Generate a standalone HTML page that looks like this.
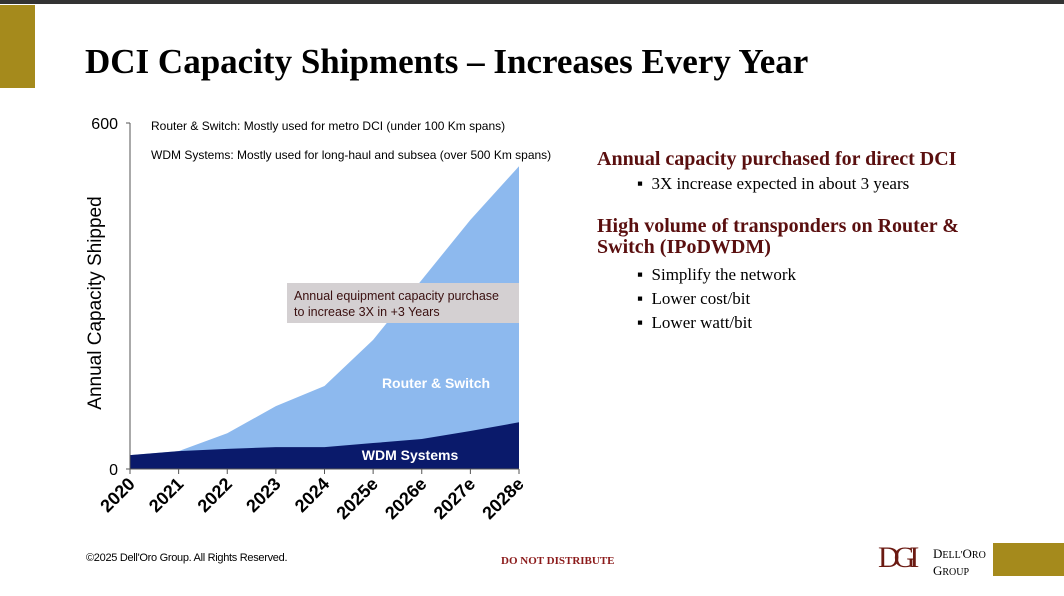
<!DOCTYPE html>
<html><head><meta charset="utf-8"><style>
body{margin:0;width:1064px;height:596px;background:#fff;position:relative;overflow:hidden;font-family:"Liberation Sans",sans-serif}
.abs{position:absolute}
</style></head><body>
<div class="abs" style="left:0;top:0;width:1064px;height:4px;background:#333"></div>
<div class="abs" style="left:0;top:5px;width:35px;height:83px;background:#a58a1c"></div>
<div class="abs" style="left:85px;top:42px;font:bold 35px 'Liberation Serif',serif;color:#000;white-space:nowrap">DCI Capacity Shipments – Increases Every Year</div>
<svg class="abs" style="left:0;top:0" width="1064" height="596">
<g id="g"></g>
</svg>
<div class="abs" style="left:597px;top:148px;font-family:'Liberation Serif',serif;color:#000">
<div style="font-weight:bold;font-size:20px;color:#5a0f0f;line-height:22px">Annual capacity purchased for direct DCI</div>
<div style="font-size:17px;margin:3px 0 0 40px;line-height:22px">▪&nbsp;&nbsp;3X increase expected in about 3 years</div>
<div style="font-weight:bold;font-size:20px;color:#5a0f0f;margin-top:21px;line-height:21px">High volume of transponders on Router &amp;<br>Switch (IPoDWDM)</div>
<div style="font-size:17px;margin:5px 0 0 40px;line-height:24px">▪&nbsp;&nbsp;Simplify the network<br>▪&nbsp;&nbsp;Lower cost/bit<br>▪&nbsp;&nbsp;Lower watt/bit</div>
</div>
<div class="abs" style="left:86px;top:552px;font-size:11px;letter-spacing:-0.3px">©2025 Dell'Oro Group. All Rights Reserved.</div>
<div class="abs" style="left:501px;top:555px;font:bold 11px 'Liberation Serif',serif;color:#8b1a1a">DO NOT DISTRIBUTE</div>
<div class="abs" style="left:878px;top:541px;font:30px 'Liberation Serif',serif;color:#6b1a12;letter-spacing:-6px">DGI</div>
<div class="abs" style="left:933px;top:546px;font:13px 'Liberation Serif',serif;line-height:15px">D<span style="font-size:10px">ELL'</span>O<span style="font-size:10px">RO</span><br>G<span style="font-size:10px">ROUP</span></div>
<div class="abs" style="left:993px;top:543px;width:71px;height:33px;background:#a58a1c"></div>
<script>
const categories=["2020","2021","2022","2023","2024","2025e","2026e","2027e","2028e"];
const wdm=[24,31,35,38,38,45,52,66,81];
const routerSwitch=[0,0,27,71,106,179,276,366,444];
const yTicks=[0,600];
const NS="http://www.w3.org/2000/svg";
const g=document.getElementById('g');
const x0=130,x1=519,y0=469,y1=123;
const X=i=>x0+i*(x1-x0)/(categories.length-1);
const Y=v=>y0-v*(y0-y1)/600;
function mk(t,a){const e=document.createElementNS(NS,t);for(const k in a)e.setAttribute(k,a[k]);g.appendChild(e);return e;}
const tot=wdm.map((w,i)=>w+routerSwitch[i]);
let p="M"+X(0)+","+Y(0);categories.forEach((c,i)=>p+=" L"+X(i)+","+Y(tot[i]));p+=" L"+X(categories.length-1)+","+Y(0)+"Z";
let a1=mk('path',{d:p,fill:'#8db9ee'});


p="M"+X(0)+","+Y(0);categories.forEach((c,i)=>p+=" L"+X(i)+","+Y(wdm[i]));p+=" L"+X(categories.length-1)+","+Y(0)+"Z";
let a2=mk('path',{d:p,fill:'#0a1a6b'});


mk('line',{x1:x0,y1:y1,x2:x0,y2:y0,stroke:'#555'});
mk('line',{x1:x0,y1:y0,x2:x1,y2:y0,stroke:'#555'});
yTicks.forEach(v=>{mk('line',{x1:x0-4,x2:x0,y1:Y(v),y2:Y(v),stroke:'#555'});
let t=mk('text',{x:x0-12,y:Y(v)+6,'text-anchor':'end','font-size':16,fill:'#000'});t.textContent=v;

});
categories.forEach((c,i)=>{mk('line',{x1:X(i),x2:X(i),y1:y0,y2:y0+5,stroke:'#555'});
let t=mk('text',{x:X(i)+6,y:y0+16,'text-anchor':'end','font-size':18,'font-weight':'bold',transform:`rotate(-45 ${X(i)+6} ${y0+16})`});t.textContent=c;

});
let yt=mk('text',{x:101,y:303,'text-anchor':'middle','font-size':19,transform:'rotate(-90 101 303)'});yt.textContent="Annual Capacity Shipped";


let n1=mk('text',{x:151,y:130,'font-size':12});n1.textContent="Router & Switch: Mostly used for metro DCI (under 100 Km spans)";


let n2=mk('text',{x:151,y:159,'font-size':12});n2.textContent="WDM Systems: Mostly used for long-haul and subsea (over 500 Km spans)";


let bx=mk('rect',{x:287,y:283,width:232,height:40,fill:'#d4d0d2'});


let b1=mk('text',{x:294,y:300,'font-size':12.5,fill:'#3a0f0f'});b1.textContent="Annual equipment capacity purchase";


let b2=mk('text',{x:294,y:316,'font-size':12.5,fill:'#3a0f0f'});b2.textContent="to increase 3X in +3 Years";


let l1=mk('text',{x:436,y:388,'text-anchor':'middle','font-size':14,'font-weight':'bold',fill:'#fff'});l1.textContent="Router & Switch";


let l2=mk('text',{x:410,y:460,'text-anchor':'middle','font-size':14,'font-weight':'bold',fill:'#fff'});l2.textContent="WDM Systems";


</script>
</body></html>
